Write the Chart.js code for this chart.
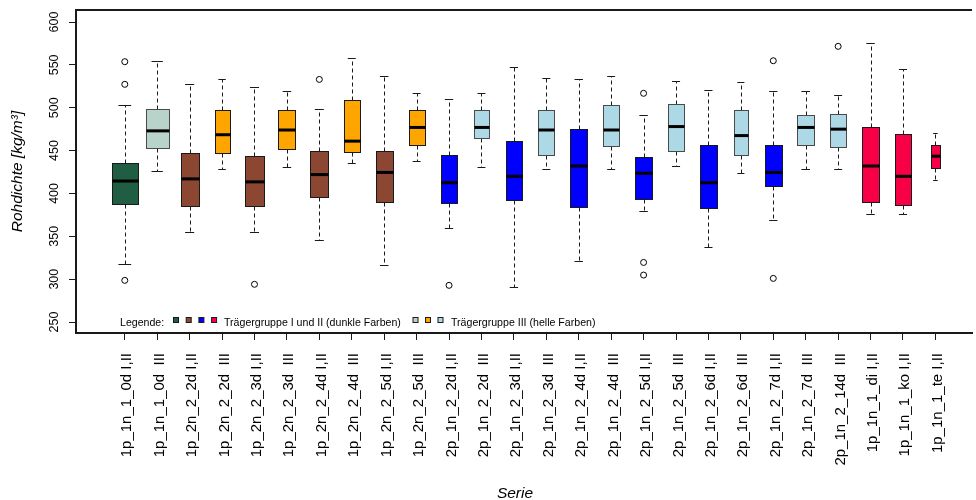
<!DOCTYPE html>
<html>
<head>
<meta charset="utf-8">
<script src="https://cdn.jsdelivr.net/npm/chart.js@4.4.1/dist/chart.umd.min.js"></script>
<style>
    html, body { margin: 0; padding: 0; background: #fff; }
    #wrap { width: 976px; height: 500px; }
</style>
</head>
<body>
<div id="wrap"><canvas id="rohdichteChart" width="976" height="500"></canvas></div>
<script>
// Serien (x-Achse)
const serien = [
    "1p_1n_1_0d I,II", "1p_1n_1_0d  III",
    "1p_2n_2_2d I,II", "1p_2n_2_2d  III",
    "1p_2n_2_3d I,II", "1p_2n_2_3d  III",
    "1p_2n_2_4d I,II", "1p_2n_2_4d  III",
    "1p_2n_2_5d I,II", "1p_2n_2_5d  III",
    "2p_1n_2_2d I,II", "2p_1n_2_2d  III",
    "2p_1n_2_3d I,II", "2p_1n_2_3d  III",
    "2p_1n_2_4d I,II", "2p_1n_2_4d  III",
    "2p_1n_2_5d I,II", "2p_1n_2_5d  III",
    "2p_1n_2_6d I,II", "2p_1n_2_6d  III",
    "2p_1n_2_7d I,II", "2p_1n_2_7d  III",
    "2p_1n_2_14d  III",
    "1p_1n_1_di I,II", "1p_1n_1_ko I,II", "1p_1n_1_te I,II",
];

// Rohdichte [kg/m³], Kennwerte je Serie
const whiskerHigh = [503, 555, 528, 533, 524, 519, 498, 558, 537, 517, 510, 517, 548, 535, 534, 537, 492, 531, 521, 530, 519, 520, 515, 575, 545, 470];
const q3 = [435, 499, 447.5, 497.5, 444, 497, 450, 508.5, 450, 497.5, 445, 497, 461.5, 497, 475, 503, 442, 504, 457, 497, 456, 491, 493, 477, 469, 456];
const median = [414.5, 473, 417, 468.5, 413.5, 474, 422, 461, 424.5, 477, 412.5, 477, 420, 474, 432, 474, 423.5, 478, 412.5, 467.5, 424.5, 477, 475, 432, 420, 443.5];
const q1 = [387.5, 453, 385, 447.5, 385, 452, 396, 448.5, 389.5, 456, 388.5, 464.5, 392, 445, 384, 455, 394, 450, 383.5, 444.5, 408.5, 456, 454, 390.5, 386, 430];
const whiskerLow = [318, 426.5, 354.5, 429, 354.5, 431, 345.5, 435.5, 316, 438, 360, 431, 291, 429, 321, 429, 380, 432, 338, 423.5, 369, 429, 429, 375.5, 375.5, 415.5];
const ausreisser = [
    [553.7, 527.3, 298.6], [], [], [], [294], [], [533], [], [], [],
    [292.8], [], [], [], [], [], [516.8, 319.5, 304.8], [], [], [],
    [554.8, 300.9], [], [571.6], [], [], [],
];

const yTicks = [250, 300, 350, 400, 450, 500, 550, 600];

// Farben
const C = {
    darkGreen: "#205e43",
    lightGreen: "#b8d3c9",
    brown: "#8b4731",
    orange: "#ffa500",
    blue: "#0000ff",
    lightBlue: "#add8e6",
    red: "#f70046",
};
const boxColor = [
    C.darkGreen, C.lightGreen,
    C.brown, C.orange, C.brown, C.orange, C.brown, C.orange, C.brown, C.orange,
    C.blue, C.lightBlue, C.blue, C.lightBlue, C.blue, C.lightBlue, C.blue, C.lightBlue,
    C.blue, C.lightBlue, C.blue, C.lightBlue, C.lightBlue,
    C.red, C.red, C.red,
];
// box width in x units (varwidth)
const boxWidth = [0.786, 0.697, 0.562, 0.46, 0.562, 0.522, 0.553, 0.491, 0.531, 0.491, 0.513, 0.491, 0.513,
    0.491, 0.522, 0.491, 0.522, 0.5, 0.5, 0.44, 0.513, 0.531, 0.491, 0.522, 0.5, 0.286];

const FONT = '"Liberation Sans", Arial, sans-serif';
const INK = "#1a1a1a";

function isLight(col) {
    return col === C.lightGreen || col === C.orange || col === C.lightBlue;
}

function line(ctx, x1, y1, x2, y2) {
    ctx.beginPath();
    ctx.moveTo(x1, y1);
    ctx.lineTo(x2, y2);
    ctx.stroke();
}

const boxplotPlugin = {
    id: "boxplot",
    beforeDatasetsDraw(chart) {
        const { ctx, scales: { x, y } } = chart;
        ctx.save();
        for (let i = 0; i < serien.length; i++) {
            const half = boxWidth[i] / 2;
            const xc = Math.round(x.getPixelForValue(i + 1)) + 0.5;
            const xl = Math.round(x.getPixelForValue(i + 1 - half)) + 0.5;
            const xr = Math.round(x.getPixelForValue(i + 1 + half)) + 0.5;
            const sl = x.getPixelForValue(i + 1 - half / 2);
            const sr = x.getPixelForValue(i + 1 + half / 2);
            const yHi = Math.round(y.getPixelForValue(whiskerHigh[i])) + 0.5;
            const yQ3 = Math.round(y.getPixelForValue(q3[i])) + 0.5;
            const yMed = y.getPixelForValue(median[i]);
            const yQ1 = Math.round(y.getPixelForValue(q1[i])) + 0.5;
            const yLo = Math.round(y.getPixelForValue(whiskerLow[i])) + 0.5;

            // whiskers
            ctx.strokeStyle = INK;
            ctx.lineWidth = 1;
            ctx.setLineDash([4, 3]);
            line(ctx, xc, yQ3, xc, yHi);
            line(ctx, xc, yQ1, xc, yLo);
            ctx.setLineDash([]);
            line(ctx, sl, yHi, sr, yHi);
            line(ctx, sl, yLo, sr, yLo);

            // box
            ctx.fillStyle = boxColor[i];
            ctx.fillRect(xl, yQ3, xr - xl, yQ1 - yQ3);
            ctx.strokeStyle = isLight(boxColor[i]) && boxColor[i] !== C.orange ? "#4a4a4a" : INK;
            ctx.strokeRect(xl, yQ3, xr - xl, yQ1 - yQ3);

            // median
            ctx.strokeStyle = "#000";
            ctx.lineWidth = 3;
            line(ctx, xl, yMed, xr, yMed);
        }
        ctx.restore();
    },
    afterDraw(chart) {
        const { ctx, chartArea, scales: { x, y } } = chart;
        ctx.save();

        // top frame line
        ctx.strokeStyle = INK;
        ctx.lineWidth = 2;
        line(ctx, chartArea.left, chartArea.top, chartArea.right, chartArea.top);

        ctx.fillStyle = "#000";

        // y tick labels (rotated)
        ctx.font = "12.5px " + FONT;
        ctx.textAlign = "center";
        ctx.textBaseline = "alphabetic";
        for (const v of yTicks) {
            ctx.save();
            ctx.translate(57.5, y.getPixelForValue(v));
            ctx.rotate(-Math.PI / 2);
            ctx.fillText(String(v), 0, 0);
            ctx.restore();
        }

        // x tick labels (rotated, ending below the axis)
        ctx.font = "15px " + FONT;
        ctx.textAlign = "right";
        for (let i = 0; i < serien.length; i++) {
            ctx.save();
            ctx.translate(x.getPixelForValue(i + 1) + 6.5, chartArea.bottom + 20);
            ctx.rotate(-Math.PI / 2);
            ctx.fillText(serien[i], 0, 0);
            ctx.restore();
        }

        // axis titles
        ctx.font = "italic 15.5px " + FONT;
        ctx.textAlign = "center";
        ctx.fillText("Serie", 515, 498);
        ctx.save();
        ctx.translate(21.5, (chartArea.top + chartArea.bottom) / 2);
        ctx.rotate(-Math.PI / 2);
        ctx.fillText("Rohdichte [kg/m³]", 0, 0);
        ctx.restore();

        // legend inside the plot
        ctx.font = "10.6px " + FONT;
        ctx.textAlign = "left";
        const ly = 326;
        ctx.fillText("Legende:", 120, ly);
        const swatch = (cx, col) => {
            ctx.fillStyle = col;
            ctx.fillRect(cx - 2.5, 317.5, 5, 5);
            ctx.strokeStyle = INK;
            ctx.lineWidth = 1;
            ctx.strokeRect(cx - 2.5, 317.5, 5, 5);
        };
        [C.darkGreen, C.brown, C.blue, C.red].forEach((col, k) => swatch(176 + k * 12.7, col));
        [C.lightGreen, C.orange, C.lightBlue].forEach((col, k) => swatch(415.5 + k * 12.5, col));
        ctx.fillStyle = "#000";
        ctx.fillText("Trägergruppe I und II (dunkle Farben)", 224, ly);
        ctx.fillText("Trägergruppe III (helle Farben)", 451, ly);

        ctx.restore();
    },
};

const outlierPoints = [];
ausreisser.forEach((vals, i) => vals.forEach((v) => outlierPoints.push({ x: i + 1, y: v })));

const axisGrid = {
    drawOnChartArea: false,
    drawTicks: true,
    tickLength: 7,
    color: INK,
    lineWidth: 1,
};

const config = {
    type: "scatter",
    data: {
        datasets: [
            {
                label: "Ausreißer",
                data: outlierPoints,
                pointStyle: "circle",
                pointRadius: 3,
                pointBorderWidth: 1,
                borderColor: "#000",
                backgroundColor: "rgba(0,0,0,0)",
                pointHoverRadius: 3,
            },
        ],
    },
    options: {
        responsive: false,
        animation: false,
        events: [],
        layout: { padding: { top: 10, right: 0, left: 0, bottom: 0 } },
        plugins: {
            legend: { display: false },
            tooltip: { enabled: false },
            title: { display: false },
        },
        scales: {
            x: {
                type: "linear",
                min: -0.5045,
                max: 27.128,
                afterBuildTicks: (axis) => {
                    axis.ticks = serien.map((s, i) => ({ value: i + 1 }));
                },
                afterFit: (axis) => {
                    axis.height = 167;
                },
                ticks: { display: false },
                grid: axisGrid,
                border: { display: true, color: INK, width: 2 },
            },
            y: {
                min: 237.2,
                max: 614,
                afterBuildTicks: (axis) => {
                    axis.ticks = yTicks.map((v) => ({ value: v }));
                },
                afterFit: (axis) => {
                    axis.width = 76;
                },
                ticks: { display: false },
                grid: axisGrid,
                border: { display: true, color: INK, width: 2 },
            },
        },
    },
    plugins: [boxplotPlugin],
};

new Chart(document.getElementById("rohdichteChart"), config);
</script>
</body>
</html>
